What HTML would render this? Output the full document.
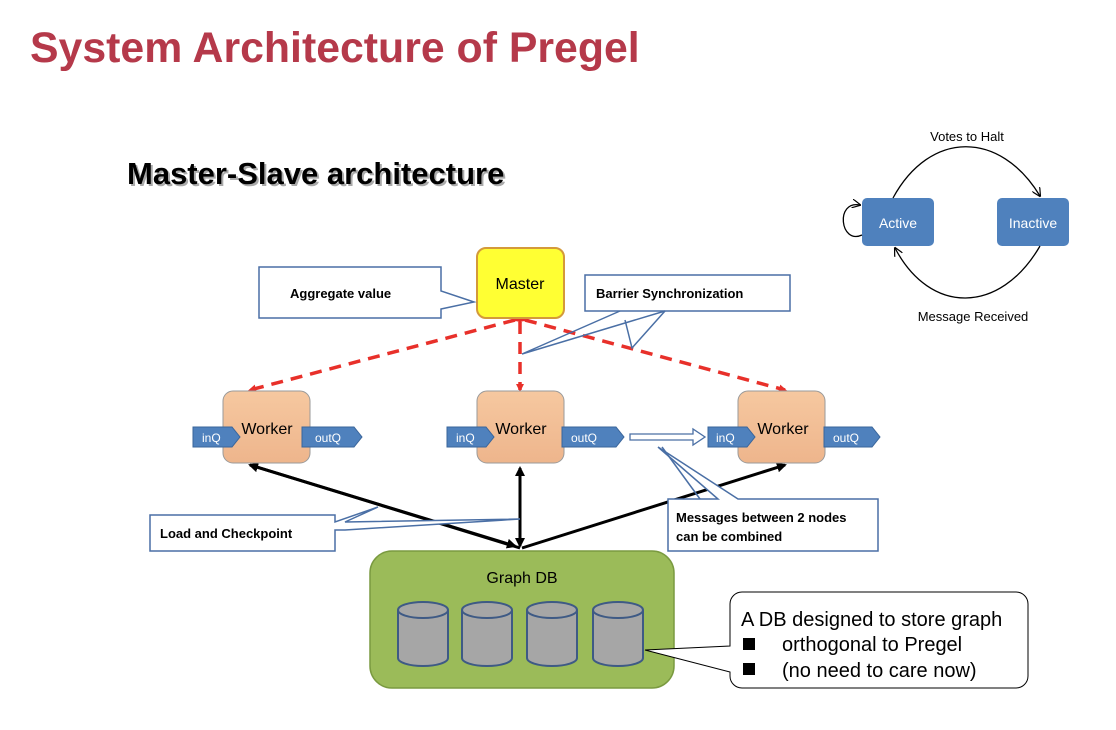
<!DOCTYPE html>
<html><head><meta charset="utf-8"><style>
body{margin:0;background:#fff;}
svg{display:block;font-family:"Liberation Sans",sans-serif;}
</style></head><body>
<svg width="1116" height="730" viewBox="0 0 1116 730" xmlns="http://www.w3.org/2000/svg">
<defs>
<marker id="ra" markerWidth="8" markerHeight="8" refX="6" refY="4" orient="auto" markerUnits="userSpaceOnUse"><path d="M0,0 L8,4 L0,8 z" fill="#e8302a"/></marker>
<marker id="ka" markerWidth="10" markerHeight="10" refX="8" refY="5" orient="auto" markerUnits="userSpaceOnUse"><path d="M0,0 L10,5 L0,10 z" fill="#000"/></marker>
<marker id="sa" markerWidth="9" markerHeight="9" refX="8" refY="4.5" orient="auto" markerUnits="userSpaceOnUse"><path d="M0,0 L9,4.5 L0,9" fill="none" stroke="#000" stroke-width="1.2"/></marker>
<linearGradient id="wg" x1="0" y1="0" x2="0" y2="1"><stop offset="0" stop-color="#f6c8a0"/><stop offset="1" stop-color="#eeb58c"/></linearGradient>
</defs>
<text x="30" y="62" font-size="42.8" font-weight="bold" fill="#b5394a">System Architecture of Pregel</text>
<text x="129" y="186" font-size="31" font-weight="bold" fill="#aaa">Master-Slave architecture</text>
<text x="127" y="184" font-size="31" font-weight="bold" fill="#000">Master-Slave architecture</text>

<rect x="862" y="198" width="72" height="48" rx="5" fill="#4f81bd"/>
<rect x="997" y="198" width="72" height="48" rx="5" fill="#4f81bd"/>
<text x="898" y="228" font-size="14" fill="#fff" text-anchor="middle">Active</text>
<text x="1033" y="228" font-size="14" fill="#fff" text-anchor="middle">Inactive</text>
<path d="M893,198 C930,130 1000,130 1040,196" fill="none" stroke="#000" stroke-width="1.3" marker-end="url(#sa)"/>
<path d="M1040,246 C1000,315 930,315 895,248" fill="none" stroke="#000" stroke-width="1.3" marker-end="url(#sa)"/>
<path d="M862,235 C840,245 835,200 860,205" fill="none" stroke="#000" stroke-width="1.3" marker-end="url(#sa)"/>
<text x="967" y="141" font-size="13" text-anchor="middle">Votes to Halt</text>
<text x="973" y="321" font-size="13" text-anchor="middle">Message Received</text>

<g stroke="#000" stroke-width="3" fill="none">
<line x1="520" y1="548" x2="250" y2="465" marker-end="url(#ka)"/>
<line x1="250" y1="465" x2="515" y2="546" marker-end="url(#ka)"/>
<line x1="520" y1="546" x2="520" y2="468" marker-end="url(#ka)"/>
<line x1="520" y1="468" x2="520" y2="546" marker-end="url(#ka)"/>
<line x1="522" y1="548" x2="785" y2="465" marker-end="url(#ka)"/>
</g>

<g stroke="#e8302a" stroke-width="3.5" fill="none" stroke-dasharray="12,8">
<line x1="515" y1="320" x2="250" y2="390" marker-end="url(#ra)" marker-start="url(#ra)"/>
<line x1="520" y1="322" x2="520" y2="390" marker-end="url(#ra)" marker-start="url(#ra)"/>
<line x1="525" y1="320" x2="785" y2="390" marker-end="url(#ra)" marker-start="url(#ra)"/>
</g>

<rect x="477" y="248" width="87" height="70" rx="9" fill="#ffff33" stroke="#d49a3a" stroke-width="2"/>
<text x="520" y="289" font-size="16" text-anchor="middle">Master</text>

<path d="M259,267 H441 V291 L474,302 L441,309 V318 H259 Z" fill="#fff" stroke="#4a6fa5" stroke-width="1.5"/>
<text x="290" y="298" font-size="13" font-weight="bold">Aggregate value</text>
<path d="M585,275 H790 V311 H585 Z" fill="#fff" stroke="#4a6fa5" stroke-width="1.5"/>
<path d="M620,311 L522,354 L665,311" fill="none" stroke="#4a6fa5" stroke-width="1.5"/>
<path d="M625,320 L632,348 L665,311" fill="none" stroke="#4a6fa5" stroke-width="1.5"/>
<text x="596" y="298" font-size="13" font-weight="bold">Barrier Synchronization</text>

<g font-size="16">
<rect x="223" y="391" width="87" height="72" rx="10" fill="url(#wg)" stroke="#9a9a9a"/>
<rect x="477" y="391" width="87" height="72" rx="10" fill="url(#wg)" stroke="#9a9a9a"/>
<rect x="738" y="391" width="87" height="72" rx="10" fill="url(#wg)" stroke="#9a9a9a"/>
<text x="267" y="434" text-anchor="middle">Worker</text>
<text x="521" y="434" text-anchor="middle">Worker</text>
<text x="783" y="434" text-anchor="middle">Worker</text>
</g>
<g fill="#4f81bd" stroke="#3a659a">
<path d="M193,427 H232 L240,437 L232,447 H193 Z"/>
<path d="M302,427 H354 L362,437 L354,447 H302 Z"/>
<path d="M447,427 H486 L494,437 L486,447 H447 Z"/>
<path d="M562,427 H616 L624,437 L616,447 H562 Z"/>
<path d="M708,427 H747 L755,437 L747,447 H708 Z"/>
<path d="M824,427 H872 L880,437 L872,447 H824 Z"/>
</g>
<g font-size="12" fill="#fff">
<text x="202" y="442">inQ</text><text x="315" y="442">outQ</text>
<text x="456" y="442">inQ</text><text x="571" y="442">outQ</text>
<text x="716" y="442">inQ</text><text x="833" y="442">outQ</text>
</g>
<path d="M630,434 H693 V429 L705,437 L693,445 V440 H630 Z" fill="#fff" stroke="#4a6fa5" stroke-width="1.3"/>

<path d="M150,515 H335 V522 L378,507 L345,522 L520,519 L345,530 H335 V551 H150 Z" fill="#fff" stroke="#4a6fa5" stroke-width="1.5"/>
<text x="160" y="538" font-size="13" font-weight="bold">Load and Checkpoint</text>
<path d="M668,499 H718 L658,447 L738,499 H878 V551 H668 Z" fill="#fff" stroke="#4a6fa5" stroke-width="1.5"/>
<path d="M662,447 L700,499" fill="none" stroke="#4a6fa5" stroke-width="1.5"/>
<text x="676" y="522" font-size="13" font-weight="bold">Messages between 2 nodes</text>
<text x="676" y="541" font-size="13" font-weight="bold">can be combined</text>

<rect x="370" y="551" width="304" height="137" rx="22" fill="#9bbb59" stroke="#7a9a40" stroke-width="1.5"/>
<text x="522" y="583" font-size="16" text-anchor="middle">Graph DB</text>
<g fill="#a6a6a6" stroke="#3e5a85" stroke-width="2">
<path d="M398,610 V658 A25,8 0 0 0 448,658 V610"/><ellipse cx="423" cy="610" rx="25" ry="8"/>
<path d="M462,610 V658 A25,8 0 0 0 512,658 V610"/><ellipse cx="487" cy="610" rx="25" ry="8"/>
<path d="M527,610 V658 A25,8 0 0 0 577,658 V610"/><ellipse cx="552" cy="610" rx="25" ry="8"/>
<path d="M593,610 V658 A25,8 0 0 0 643,658 V610"/><ellipse cx="618" cy="610" rx="25" ry="8"/>
</g>
<path d="M742,592 H1016 A12,12 0 0 1 1028,604 V676 A12,12 0 0 1 1016,688 H742 A12,12 0 0 1 730,676 V672 L645,650 L730,646 V604 A12,12 0 0 1 742,592 Z" fill="#fff" stroke="#000" stroke-width="1"/>
<text x="741" y="626" font-size="20">A DB designed to store graph</text>
<rect x="743" y="638" width="12" height="12"/>
<text x="782" y="651" font-size="20">orthogonal to Pregel</text>
<rect x="743" y="663" width="12" height="12"/>
<text x="782" y="677" font-size="20">(no need to care now)</text>
</svg>
</body></html>
